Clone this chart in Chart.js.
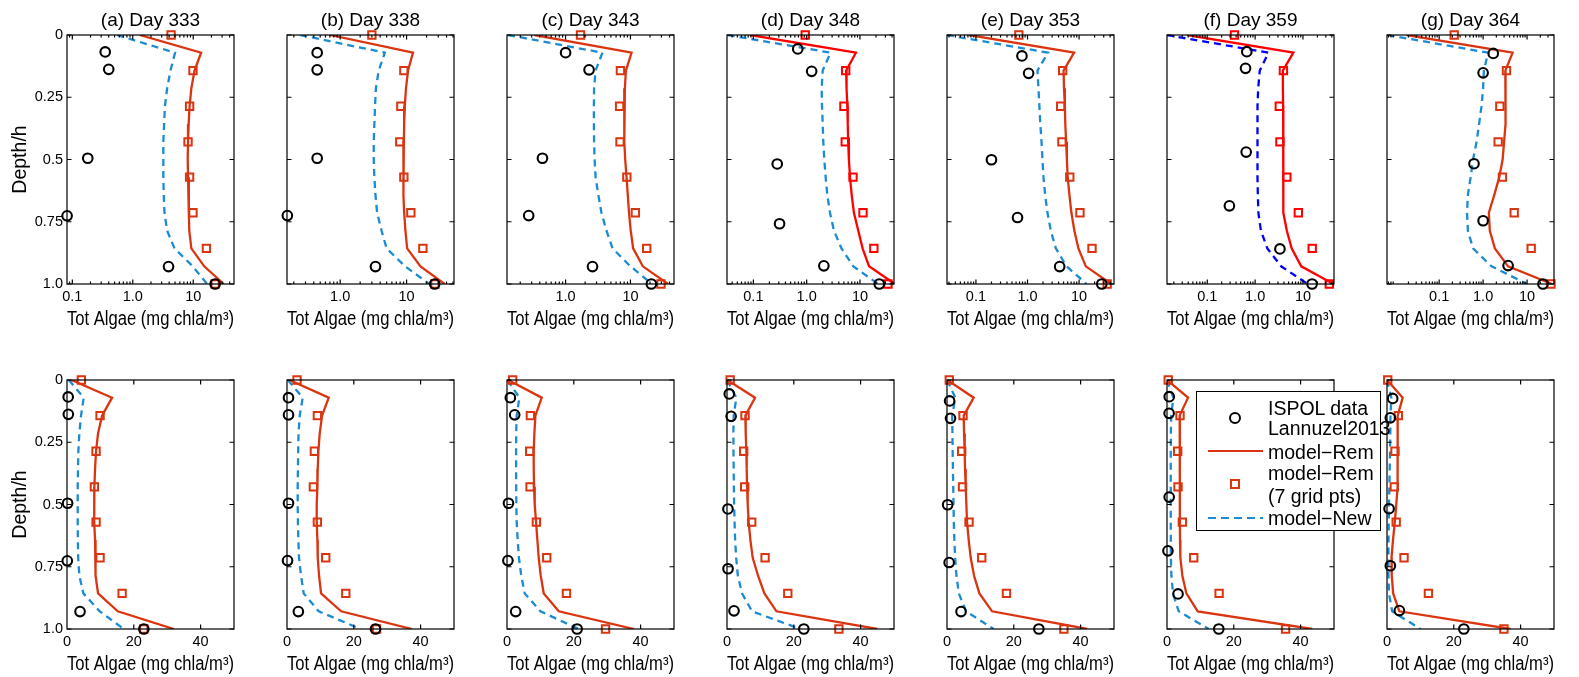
<!DOCTYPE html>
<html>
<head>
<meta charset="utf-8">
<title>Tot Algae profiles</title>
<script src="https://cdn.jsdelivr.net/npm/chart.js@4.4.1/dist/chart.umd.min.js"></script>
<style>
  html, body { margin: 0; padding: 0; background: #fff; }
  body { width: 1579px; height: 677px; position: relative; overflow: hidden;
         font-family: "Liberation Sans", Arial, Helvetica, sans-serif; }
  canvas { position: absolute; }
  #leg { position: absolute; left: 1196px; top: 391px; width: 185px; height: 140px;
         box-sizing: border-box; border: 1px solid #000; background: #fff; z-index: 5; }
  #leg .t { position: absolute; left: 71px; font-size: 19.5px; line-height: 22px; white-space: nowrap; color: #000; }
  #leg .circ { position: absolute; left: 32px; top: 19.5px; width: 8px; height: 8px; border: 2px solid #000; border-radius: 50%; }
  #leg .sq { position: absolute; left: 33px; top: 86.5px; width: 6px; height: 6px; border: 2px solid #da3510; }
  #leg .ln { position: absolute; left: 11px; width: 55px; height: 2.2px; }
</style>
</head>
<body>
<div id="leg">
  <span class="circ"></span>
  <span class="ln" style="top:58px;background:#da3510"></span>
  <span class="sq"></span>
  <span class="ln" style="top:125px;background:repeating-linear-gradient(90deg,#1b8bd3 0 8px,transparent 8px 13px)"></span>
  <div class="t" style="top:4.5px">ISPOL data</div>
  <div class="t" style="top:25.3px">Lannuzel2013</div>
  <div class="t" style="top:48.7px">model−Rem</div>
  <div class="t" style="top:70.3px">model−Rem</div>
  <div class="t" style="top:93px">(7 grid pts)</div>
  <div class="t" style="top:115px">model−New</div>
</div>
<script>
// ── data ───────────────────────────────────────────────────────────────────
const panelTitles = ['(a) Day 333', '(b) Day 338', '(c) Day 343', '(d) Day 348', '(e) Day 353', '(f) Day 359', '(g) Day 364'];

// model depth grid (lines) and the 7-grid-point depths (squares)
const lineDepth = [0, 0.071, 0.143, 0.214, 0.286, 0.357, 0.429, 0.5, 0.571, 0.643, 0.714, 0.786, 0.857, 0.929, 1.0];
const gridDepth = [0, 0.143, 0.286, 0.429, 0.571, 0.714, 0.857, 1.0];

// model-Rem, full resolution (one row per day)
const remLine = [
  [1.3, 13.5, 10.5, 9.3, 8.7, 8.4, 8.2, 8.1, 8.2, 8.4, 8.5, 8.6, 9.3, 15.2, 32],
  [0.7, 12.5, 10.5, 9.8, 9.4, 9.2, 9.1, 8.9, 8.9, 9.1, 9.2, 9.6, 10.2, 16.2, 37.4],
  [0.33, 10.4, 8.5, 8.2, 8.0, 8.0, 8.1, 8.3, 8.7, 9.1, 9.5, 10.1, 11, 15.5, 38],
  [0.087, 8.4, 5.5, 5.6, 5.8, 5.9, 6.0, 6.2, 6.5, 7.0, 7.7, 9.3, 11.2, 14.8, 45],
  [0.074, 8, 5.0, 5.1, 5.3, 5.4, 5.6, 5.8, 6.0, 6.5, 7.1, 8.1, 9.7, 13.5, 42],
  [0.038, 6.3, 3.8, 3.8, 3.85, 3.85, 3.85, 3.85, 3.85, 3.9, 4.0, 4.6, 5.8, 9.2, 43.5],
  [0.018, 4.7, 3.2, 3.26, 3.26, 3.2, 3.0, 2.78, 2.33, 1.79, 1.35, 1.42, 1.85, 3.7, 37]
];

// model-New
const newLine = [
  [0.55, 5.0, 4.2, 3.7, 3.4, 3.3, 3.2, 3.2, 3.2, 3.25, 3.35, 3.7, 4.9, 9.8, 17],
  [0.25, 4.7, 3.8, 3.45, 3.35, 3.27, 3.2, 3.2, 3.27, 3.4, 3.6, 4.2, 5.0, 9.5, 22],
  [0.13, 3.7, 2.9, 2.75, 2.73, 2.73, 2.75, 2.8, 2.9, 3.2, 3.57, 4.27, 5.3, 10, 21.5],
  [0.033, 2.8, 2.0, 1.91, 1.94, 2.0, 2.05, 2.14, 2.27, 2.44, 2.74, 3.25, 4.5, 7.5, 22],
  [0.0275, 2.5, 1.56, 1.63, 1.7, 1.77, 1.87, 1.95, 2.04, 2.2, 2.44, 2.83, 3.54, 5.7, 14],
  [0.0142, 1.9, 1.25, 1.16, 1.12, 1.12, 1.12, 1.12, 1.12, 1.14, 1.17, 1.32, 1.8, 3.5, 12.5],
  [0.0067, 1.3, 1.04, 1.0, 0.92, 0.81, 0.71, 0.59, 0.52, 0.45, 0.43, 0.45, 0.59, 1.55, 10]
];

// model-Rem at 7 grid pts
const remGrid = [
  [4.3, 9.9, 8.7, 8.2, 8.7, 9.9, 16.5, 23],
  [3.0, 9.1, 8.2, 7.9, 9.1, 11.6, 17.6, 26.8],
  [1.7, 7.0, 6.8, 6.9, 8.8, 11.9, 17.8, 29.5],
  [0.94, 5.4, 5.0, 5.3, 7.4, 11.4, 18.2, 33.5],
  [0.68, 4.8, 4.4, 4.65, 6.6, 10.4, 17.8, 35],
  [0.37, 3.9, 3.2, 3.3, 4.6, 8.0, 15.6, 35.5],
  [0.22, 3.4, 2.4, 2.2, 2.75, 5.1, 12.4, 35]
];

// ISPOL data (Lannuzel 2013)
const obsVal = [
  [0.35, 0.40, 0.18, 0.082, 3.9, 23],
  [0.45, 0.45, 0.45, 0.16, 3.4, 26.5],
  [1.0, 2.3, 0.44, 0.27, 2.6, 21],
  [0.68, 1.24, 0.28, 0.31, 2.1, 23],
  [0.78, 1.05, 0.2, 0.64, 4.2, 27.5],
  [0.67, 0.63, 0.65, 0.29, 3.3, 15.5],
  [1.7, 1.0, 0.62, 1.0, 3.7, 23]
];
const obsDepth = [
  [0.068, 0.138, 0.495, 0.726, 0.93, 1.0],
  [0.071, 0.14, 0.495, 0.725, 0.93, 1.0],
  [0.071, 0.14, 0.495, 0.725, 0.93, 1.0],
  [0.056, 0.146, 0.518, 0.758, 0.927, 1.0],
  [0.084, 0.154, 0.501, 0.733, 0.93, 1.0],
  [0.067, 0.134, 0.47, 0.686, 0.859, 1.0],
  [0.074, 0.152, 0.517, 0.746, 0.926, 1.0]
];

// x limits of the log panels (top row); bottom row is 0..50
const logMin = [0.0817, 0.158, 0.125, 0.032, 0.0275, 0.0144, 0.0065];
const logMax = [47.2, 51.8, 46.9, 43.5, 47.5, 44.5, 41];
const linMin = 0, linMax = 50;

// ticks
const logTickVals = [0.1, 1, 10];
const logTickText = ['0.1', '1.0', '10'];
const logMinorVals = [0.002, 0.003, 0.004, 0.005, 0.006, 0.007, 0.008, 0.009,
  0.02, 0.03, 0.04, 0.05, 0.06, 0.07, 0.08, 0.09, 0.2, 0.3, 0.4, 0.5, 0.6, 0.7, 0.8, 0.9,
  2, 3, 4, 5, 6, 7, 8, 9, 20, 30, 40, 50];
const linTickVals = [0, 20, 40];
const linTickText = ['0', '20', '40'];
const yTickVals = [0, 0.25, 0.5, 0.75, 1];
const yTickText = ['0', '0.25', '0.5', '0.75', '1.0'];

// ── styling ────────────────────────────────────────────────────────────────
const REM = '#da3510', NEW = '#1b8bd3';
const remColorTop = [REM, REM, REM, '#ff0000', REM, '#ff0000', REM];
const newColorTop = [NEW, NEW, NEW, NEW, NEW, '#0000ff', NEW];

const FONT = '"Liberation Sans", Arial, Helvetica, sans-serif';
Chart.defaults.font.family = FONT;
Chart.defaults.color = '#000';

const PANEL_LEFT0 = 67, PANEL_STEP = 220.08;
const Y_AXIS_W = 67, PLOT_W = 167, PLOT_H = 249, TOP_GAP = 36, X_AXIS_H = 47;
const CANVAS_W = 260, CANVAS_H = TOP_GAP + PLOT_H + X_AXIS_H;
const ROW_TOP = [-1, 344];

// box round the axes, ticks pointing inward (MATLAB style)
const boxPlugin = {
  id: 'box',
  afterDatasetsDraw(chart, args, opts) {
    const { ctx, chartArea: a, scales: { x, y } } = chart;
    ctx.save();
    ctx.strokeStyle = '#000';
    ctx.lineWidth = 1.2;
    ctx.beginPath();
    const tx = (vals, len) => vals.forEach(v => {
      const p = x.getPixelForValue(v);
      if (p < a.left + 0.5 || p > a.right - 0.5) return;
      ctx.moveTo(p, a.bottom); ctx.lineTo(p, a.bottom - len);
      ctx.moveTo(p, a.top); ctx.lineTo(p, a.top + len);
    });
    tx(opts.major, 4.5);
    tx(opts.minor, 2.5);
    yTickVals.forEach(v => {
      const p = y.getPixelForValue(v);
      ctx.moveTo(a.left, p); ctx.lineTo(a.left + 4.5, p);
      ctx.moveTo(a.right, p); ctx.lineTo(a.right - 4.5, p);
    });
    ctx.stroke();
    ctx.strokeRect(a.left, a.top, a.right - a.left, a.bottom - a.top);
    ctx.restore();
  }
};

const pts = (xs, ys) => xs.map((v, k) => ({ x: v, y: ys[k] }));

for (let row = 0; row < 2; row++) {
  for (let i = 0; i < 7; i++) {
    const isLog = row === 0;
    const xmin = isLog ? logMin[i] : linMin;
    const xmax = isLog ? logMax[i] : linMax;
    const allVals = isLog ? logTickVals : linTickVals;
    const allText = isLog ? logTickText : linTickText;
    const tVals = allVals.filter(v => v >= xmin && v <= xmax);
    const tText = tVals.map(v => allText[allVals.indexOf(v)]);
    const minor = isLog ? logMinorVals.filter(v => v > xmin && v < xmax) : [];
    const remC = isLog ? remColorTop[i] : REM;
    const newC = isLog ? newColorTop[i] : NEW;

    const cv = document.createElement('canvas');
    cv.width = CANVAS_W;
    cv.height = CANVAS_H;
    cv.style.left = (Math.round(PANEL_LEFT0 + PANEL_STEP * i) - Y_AXIS_W) + 'px';
    cv.style.top = ROW_TOP[row] + 'px';
    document.body.insertBefore(cv, document.getElementById('leg'));

    new Chart(cv, {
      type: 'scatter',
      data: {
        datasets: [
          {
            data: pts(obsVal[i], obsDepth[i]),
            pointStyle: 'circle', pointRadius: 4.8, pointBorderWidth: 2.1,
            pointBorderColor: '#000', pointBackgroundColor: 'rgba(0,0,0,0)',
            showLine: false, clip: false,
          },
          {
            data: pts(remGrid[i], gridDepth),
            pointStyle: 'rect', pointRadius: 5.2, pointBorderWidth: 2,
            pointBorderColor: remC, pointBackgroundColor: 'rgba(0,0,0,0)',
            showLine: false, clip: false,
          },
          {
            data: pts(remLine[i], lineDepth),
            showLine: true, borderColor: remC, borderWidth: 2.3,
            pointRadius: 0, tension: 0, fill: false,
          },
          {
            data: pts(newLine[i], lineDepth),
            showLine: true, borderColor: newC, borderWidth: 2.3, borderDash: [7, 5],
            pointRadius: 0, tension: 0, fill: false,
          },
        ],
      },
      options: {
        responsive: false,
        animation: false,
        devicePixelRatio: 1,
        events: [],
        layout: { padding: { left: 0, right: CANVAS_W - Y_AXIS_W - PLOT_W, top: isLog ? 0 : TOP_GAP, bottom: 0 } },
        plugins: {
          legend: { display: false },
          tooltip: { enabled: false },
          title: {
            display: isLog, text: panelTitles[i], color: '#000', fullSize: false,
            font: { size: 19, weight: 'normal' }, padding: { top: 10.6, bottom: 2.6 },
          },
          box: { major: tVals, minor: minor },
        },
        scales: {
          x: {
            type: isLog ? 'logarithmic' : 'linear',
            min: xmin, max: xmax, bounds: 'data',
            grid: { display: false, drawTicks: false },
            border: { display: false },
            ticks: {
              autoSkip: false, maxRotation: 0, padding: 4, color: '#000',
              font: { size: 14.5 },
              callback: v => tText[tVals.indexOf(v)],
            },
            title: {
              display: true, text: 'Tot Algae (mg chla/m³)', color: '#000',
              font: { size: 19.5 }, padding: { top: 0, bottom: 0 },
            },
            afterBuildTicks: s => { s.ticks = tVals.map(v => ({ value: v })); },
            afterFit: s => { s.height = X_AXIS_H; },
          },
          y: {
            type: 'linear', reverse: true, min: 0, max: 1, bounds: 'data',
            grid: { display: false, drawTicks: false },
            border: { display: false },
            ticks: {
              display: i === 0, autoSkip: false, padding: 4, color: '#000',
              font: { size: 14.5 },
              callback: v => yTickText[yTickVals.indexOf(v)],
            },
            title: {
              display: i === 0, text: 'Depth/h', color: '#000',
              font: { size: 19.5 }, padding: { top: 9, bottom: 0 },
            },
            afterBuildTicks: s => { s.ticks = yTickVals.map(v => ({ value: v })); },
            afterFit: s => { s.width = Y_AXIS_W; },
          },
        },
      },
      plugins: [boxPlugin],
    });
  }
}
</script>
</body>
</html>
